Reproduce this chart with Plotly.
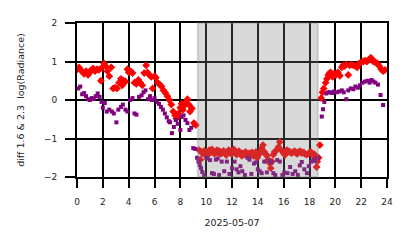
import plotly.graph_objects as go

# ---- data: red series (diff 1.6) ----
red_t = [0.05, 0.15, 0.3, 0.45, 0.55, 0.7, 0.85, 1.0, 1.1, 1.25, 1.4, 1.55, 1.7, 1.85, 1.95,
         2.1, 2.2, 2.35, 2.5, 2.65, 2.8, 2.95, 3.1, 3.25, 3.4, 3.5, 3.6, 3.75, 3.9, 4.0,
         4.15, 4.3, 4.45, 4.6, 4.75, 4.9, 5.05, 5.2, 5.35, 5.45, 5.6, 5.75, 5.85, 6.0, 6.1,
         6.25, 6.4, 6.55, 6.7, 6.85, 7.0, 7.15, 7.3, 7.45, 7.6, 7.7, 7.85, 8.0, 8.1, 8.2,
         8.3, 8.45, 8.55, 8.65, 8.75, 8.9, 9.05, 9.2,
         9.45, 9.55, 9.65, 9.75, 9.85, 9.95, 10.05, 10.15, 10.25, 10.35, 10.45, 10.55, 10.65,
         10.75, 10.85, 10.95, 11.05, 11.15, 11.25, 11.35, 11.45, 11.55, 11.65, 11.75, 11.85,
         11.95, 12.05, 12.15, 12.25, 12.35, 12.45, 12.55, 12.65, 12.75, 12.85, 12.95, 13.05,
         13.15, 13.25, 13.35, 13.45, 13.55, 13.65, 13.75, 13.85, 13.95, 14.05, 14.15, 14.3,
         14.4, 14.5, 14.6, 14.7, 14.8, 14.9, 15.0, 15.1, 15.2, 15.3, 15.45, 15.6, 15.7, 15.85,
         16.0, 16.1, 16.25, 16.35, 16.5, 16.6, 16.75, 16.85, 16.95, 17.05, 17.15, 17.3, 17.4,
         17.55, 17.65, 17.8, 17.95, 18.1, 18.25, 18.35, 18.45, 18.55, 18.6, 18.7, 18.8,
         18.9, 19.0, 19.1, 19.25, 19.35, 19.45, 19.55, 19.65, 19.8, 19.9, 20.05, 20.2, 20.35,
         20.5, 20.6, 20.7, 20.85, 21.0, 21.1, 21.25, 21.4, 21.55, 21.7, 21.85, 22.0, 22.15,
         22.3, 22.45, 22.6, 22.75, 22.85, 22.95, 23.1, 23.25, 23.4, 23.55, 23.7, 23.85]
red_v = [0.80, 0.85, 0.78, 0.72, 0.68, 0.75, 0.65, 0.72, 0.78, 0.82, 0.75, 0.80, 0.78, 0.50, 0.85,
         0.95, 0.88, 0.75, 0.62, 0.85, 0.30, 0.32, 0.30, 0.45, 0.55, 0.38, 0.50, 0.48, 0.80, 0.72,
         0.75, 0.70, 0.45, 0.42, 0.52, 0.45, 0.38, 0.70, 0.90, 0.72, 0.65, 0.60, 0.30, 0.62, 0.58,
         0.45, 0.40, 0.35, 0.25, 0.18, 0.10, 0.00, -0.12, -0.30, -0.40, -0.48, -0.35, -0.20, -0.10, -0.25,
         -0.15, -0.05, 0.02, -0.12, -0.30, -0.22, -0.60, -0.65,
         -1.30, -1.55, -1.35, -1.40, -1.32, -1.38, -1.35, -1.42, -1.30, -1.36, -1.28, -1.33, -1.40,
         -1.35, -1.30, -1.38, -1.33, -1.40, -1.36, -1.32, -1.38, -1.43, -1.35, -1.30, -1.36,
         -1.40, -1.33, -1.28, -1.35, -1.42, -1.37, -1.33, -1.40, -1.45, -1.38, -1.42, -1.35,
         -1.40, -1.47, -1.38, -1.42, -1.36, -1.45, -1.40, -1.35, -1.50, -1.42, -1.38, -1.25,
         -1.17, -1.35, -1.40, -1.45, -1.55, -1.63, -1.77, -1.60, -1.42, -1.35, -1.30, -1.22, -1.09, -1.32,
         -1.38, -1.43, -1.30, -1.33, -1.35, -1.38, -1.35, -1.33, -1.37, -1.40, -1.35, -1.33, -1.38,
         -1.36, -1.40, -1.42, -1.38, -1.35, -1.43, -1.40, -1.45, -1.74, -1.60, -1.50, -1.17,
         0.05, 0.20, 0.30, 0.45, 0.55, 0.65, 0.70, 0.72, 0.60, 0.68, 0.65, 0.72, 0.63,
         0.85, 0.90, 0.88, 0.92, 0.65, 0.90, 0.92, 0.90, 0.88, 0.85, 0.95, 0.98, 1.00,
         1.02, 1.00, 1.05, 1.10, 1.05, 1.00, 0.98, 0.95, 0.88, 0.80, 0.75, 0.78]

# ---- data: purple series (diff 2.3) ----
pur_t = [0.1, 0.25, 0.4, 0.55, 0.7, 0.85, 1.0, 1.15, 1.3, 1.45, 1.6, 1.75, 1.9, 2.0, 2.15,
         2.3, 2.5, 2.7, 2.85, 3.05, 3.2, 3.4, 3.55, 3.75, 3.9, 4.1, 4.3, 4.45, 4.6, 4.8,
         5.0, 5.15, 5.3, 5.5, 5.65, 5.8, 6.0, 6.2, 6.35, 6.5, 6.65, 6.8, 6.95, 7.1, 7.2,
         7.35, 7.5, 7.65, 7.8, 8.0, 8.1, 8.25, 8.4, 8.55, 8.7, 8.85, 9.0,
         9.15, 9.3, 9.4, 9.5, 9.6, 9.7, 9.85, 10.0, 10.1, 10.3, 10.45, 10.6, 10.75, 10.9,
         11.0, 11.2, 11.4, 11.6, 11.8, 12.0, 12.2, 12.35, 12.5, 12.65, 12.8, 13.0, 13.2,
         13.35, 13.5, 13.7, 13.85, 14.0, 14.15, 14.3, 14.5, 14.7, 14.9, 15.05, 15.2, 15.35,
         15.5, 15.7, 15.9, 16.05, 16.3, 16.5, 16.7, 16.9, 17.1, 17.25, 17.4, 17.6, 17.8,
         17.95, 18.15, 18.3, 18.45, 18.6,
         18.95, 19.05, 19.15, 19.3, 19.45, 19.6, 19.75, 19.9, 20.1, 20.3, 20.5, 20.65, 20.85,
         21.0, 21.2, 21.4, 21.55, 21.75, 21.9, 22.1, 22.3, 22.5, 22.65, 22.8, 22.95, 23.1,
         23.3, 23.5, 23.7]
pur_v = [0.30, 0.35, 0.15, 0.18, 0.10, 0.02, 0.00, 0.05, 0.03, 0.10, 0.17, 0.08, -0.05, -0.20, -0.08,
         -0.30, -0.25, -0.30, -0.35, -0.58, -0.25, -0.18, -0.12, -0.25, -0.30, 0.00, 0.05, -0.35, -0.38, 0.08,
         0.12, 0.20, 0.25, 0.02, 0.10, 0.00, 0.05, -0.05, -0.10, -0.18, -0.25, -0.35, -0.45, -0.55, -0.58,
         -0.86, -0.70, -0.52, -0.62, -0.78, -0.44, -0.40, -0.52, -0.60, -0.78, -0.72, -1.25,
         -1.27, -1.50, -1.60, -1.69, -1.77, -1.87, -1.95, -1.50, -1.52, -1.56, -1.90, -1.92, -1.55, -1.52,
         -1.95, -1.60, -1.85, -1.60, -1.92, -1.77, -1.60, -1.80, -1.88, -1.72, -1.85, -1.95, -1.50,
         -1.55, -1.92, -1.65, -1.62, -1.80, -1.85, -1.90, -1.60, -1.88, -1.58, -1.62, -1.90, -1.95,
         -1.56, -1.60, -1.95, -1.88, -1.90, -1.74, -1.92, -1.85, -1.95, -1.70, -1.61, -1.80, -1.90,
         -1.72, -1.60, -1.56, -1.58, -1.50,
         -0.43, -0.24, -0.05, 0.17, 0.20, 0.20, 0.18, 0.22, 0.20, 0.22, 0.25, 0.20, 0.02,
         0.25, 0.30, 0.28, 0.35, 0.32, 0.38, 0.45, 0.48, 0.50, 0.45, 0.52, 0.48, 0.45,
         0.40, 0.13, -0.13]

shade_start = 9.35
shade_end = 18.65

x_ticks = [0, 2, 4, 6, 8, 10, 12, 14, 16, 18, 20, 22, 24]
y_ticks = [-2, -1, 0, 1, 2]

fig = go.Figure()
fig.add_trace(go.Scatter(x=red_t, y=red_v, mode="markers",
                         marker=dict(symbol="diamond", size=6, color="#ff0000", line=dict(width=0)),
                         showlegend=False))
fig.add_trace(go.Scatter(x=pur_t, y=pur_v, mode="markers",
                         marker=dict(symbol="square", size=4, color="#800080", line=dict(width=0)),
                         showlegend=False))

fig.add_shape(type="rect", xref="x", yref="paper", x0=shade_start, x1=shade_end, y0=0, y1=1,
              fillcolor="rgba(128,128,128,0.3)", line=dict(color="rgba(128,128,128,0.3)", width=2),
              layer="above")

axis_font = dict(family="DejaVu Sans", size=9, color="#222222")
fig.update_layout(
    width=414, height=248,
    margin=dict(l=77, r=27, t=23, b=71),
    paper_bgcolor="white", plot_bgcolor="white",
    font=axis_font,
    xaxis=dict(range=[0, 24], tickvals=x_ticks, ticks="outside", ticklen=9, tickwidth=2,
               tickcolor="black", showgrid=True, gridcolor="black", gridwidth=2,
               zeroline=False, showline=True, linecolor="black", linewidth=2, mirror=True,
               ticklabelstandoff=6,
               title=dict(text="2025-05-07", font=dict(family="DejaVu Sans", size=9.5, color="#222222"),
                          standoff=14),
               tickfont=axis_font),
    yaxis=dict(range=[-2, 2], tickvals=y_ticks, ticks="outside", ticklen=10, tickwidth=2,
               tickcolor="black", showgrid=True, gridcolor="black", gridwidth=2,
               zeroline=False, showline=True, linecolor="black", linewidth=2, mirror=True,
               ticklabelstandoff=6,
               title=dict(text="diff 1.6 & 2.3  log(Radiance)",
                          font=dict(family="DejaVu Sans", size=9.5, color="#222222"), standoff=18),
               tickfont=axis_font),
)

fig.write_html("out.html")
